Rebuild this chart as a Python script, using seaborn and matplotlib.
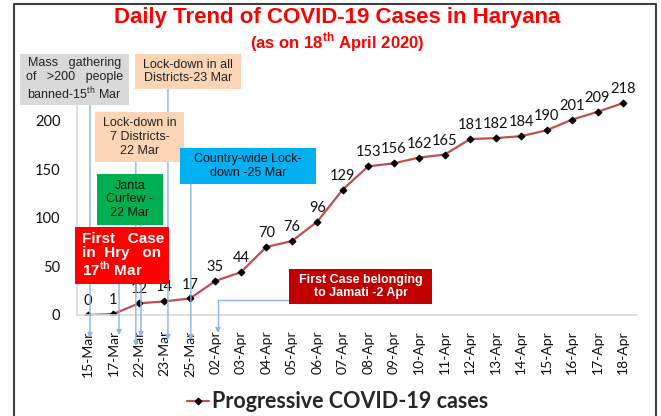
import matplotlib
matplotlib.use("Agg")
import matplotlib.pyplot as plt
import seaborn as sns
from matplotlib.patches import Rectangle
from matplotlib.lines import Line2D

# data
dates = ["15-Mar", "17-Mar", "22-Mar", "23-Mar", "25-Mar", "02-Apr", "03-Apr", "04-Apr",
         "05-Apr", "06-Apr", "07-Apr", "08-Apr", "09-Apr", "10-Apr", "11-Apr", "12-Apr",
         "13-Apr", "14-Apr", "15-Apr", "16-Apr", "17-Apr", "18-Apr"]
cases = [0, 1, 12, 14, 17, 35, 44, 70, 76, 96, 129, 153, 156, 162, 165, 181,
         182, 184, 190, 201, 209, 218]
yticks = [0, 50, 100, 150, 200]
series_name = "Progressive COVID-19 cases"

W, H = 661, 416
AX_TOP, AX_BOT = 72, 315

sns.set_theme(style="white")
plt.rcParams["font.family"] = ["Lato", "DejaVu Sans"]
plt.rcParams["mathtext.fontset"] = "custom"
plt.rcParams["mathtext.rm"] = "Liberation Sans"
plt.rcParams["mathtext.bf"] = "Liberation Sans:bold"

fig = plt.figure(figsize=(W / 100, H / 100), dpi=100)
ax = fig.add_axes([77 / W, 1 - AX_BOT / H, 560 / W, (AX_BOT - AX_TOP) / H])

sns.lineplot(x=dates, y=cases, sort=False, color="#c0504d", lw=1.6,
             marker="D", markersize=3.5, markerfacecolor="black",
             markeredgecolor="black", label=series_name, ax=ax)

for i, v in enumerate(cases):
    ax.annotate(str(v), (i, v), xytext=(0, 5), textcoords="offset points",
                ha="center", va="bottom", fontsize=10.5, color="#111111")

ax.set_ylim(0, 250)
ax.set_xlim(-0.43, 21.55)
ax.set_yticks(yticks)
ax.set_xlabel("")
ax.set_ylabel("")
ax.tick_params(axis="y", length=0, pad=12, labelsize=10.5, labelcolor="#111111")
ax.tick_params(axis="x", length=0, pad=11, labelsize=10, labelcolor="#111111",
               rotation=90)
for s in ["top", "right"]:
    ax.spines[s].set_visible(False)
for s in ["left", "bottom"]:
    ax.spines[s].set_color("#d9d9d9")
    ax.spines[s].set_linewidth(1.2)

ax.legend(loc="center", bbox_to_anchor=(338 / W, 1 - 402 / H),
          bbox_transform=fig.transFigure, frameon=False,
          prop={"family": "Lato", "weight": "bold", "size": 15.5},
          handlelength=1.0, handletextpad=0.15)


# annotation pointers (light blue lines from boxes down to the dates)
def fy(ypx):
    return (AX_BOT - ypx) / (AX_BOT - AX_TOP)


blend = ax.get_xaxis_transform()
arrow_kw = dict(arrowstyle="-|>", color="#8db3e2", lw=1.0, mutation_scale=7,
                shrinkA=0, shrinkB=0)
for xd, y0, y1 in [(0.08, 105, 338), (1.22, 284, 335), (1.88, 162, 346),
                   (2.08, 222, 337), (3.14, 89, 340), (4.04, 184, 340)]:
    ax.annotate("", xy=(xd, fy(y1)), xytext=(xd, fy(y0)), xycoords=blend,
                textcoords=blend, arrowprops=arrow_kw, annotation_clip=False)
ax.annotate("", xy=(5.1, fy(333)), xytext=(7.9, fy(300)), xycoords=blend,
            textcoords=blend, annotation_clip=False,
            arrowprops=dict(arrow_kw, connectionstyle="angle,angleA=0,angleB=90,rad=0"))


# boxes
def box(x0, y0, x1, y1, fill, text, tx=None, ha="center", **kw):
    fig.patches.append(Rectangle((x0 / W, 1 - y1 / H), (x1 - x0) / W, (y1 - y0) / H,
                                 transform=fig.transFigure, facecolor=fill,
                                 edgecolor="none", zorder=3))
    x = (x0 + x1) / 2 if tx is None else tx
    fig.text(x / W, 1 - (y0 + y1) / 2 / H, text, ha=ha, va="center",
             multialignment=ha, zorder=4, family="Liberation Sans", **kw)


box(20, 54, 129, 105, "#d9d9d9",
    "Mass   gathering\nof   >200   people\nbanned-15$^{\\rm th}$ Mar",
    fontsize=9, linespacing=1.2, color="#222222")
box(135, 54, 241, 89, "#fbd5b5", "Lock-down in all\nDistricts-23 Mar",
    fontsize=9, linespacing=1.2, color="#222222")
box(95, 112, 184, 162, "#fbd5b5", "Lock-down in\n7 Districts-\n22 Mar",
    fontsize=9, linespacing=1.2, color="#222222")
box(97, 174, 163, 225, "#00b050", "Janta\nCurfew -\n22 Mar",
    fontsize=9, linespacing=1.2, color="#111111")
box(180, 148, 316, 184, "#00b0f0", "Country-wide Lock-\ndown -25 Mar",
    fontsize=9, linespacing=1.2, color="#111111")
box(75, 227, 169, 284, "#ff0000", "First   Case\nin  Hry   on\n17$^{\\bf th}$ Mar",
    tx=82, ha="left", fontsize=11, fontweight="bold", linespacing=1.0, color="white")
box(289, 269, 432, 304, "#c00000", "First Case belonging\nto Jamati -2 Apr",
    fontsize=9, fontweight="bold", linespacing=1.15, color="white")

# titles
fig.text(337 / W, 1 - 18 / H, "Daily Trend of COVID-19 Cases in Haryana",
         ha="center", va="center", color="#ff0000", fontsize=16,
         fontweight="bold", family="Liberation Sans")
fig.text(337 / W, 1 - 42 / H, "(as on 18$^{\\bf th}$ April 2020)",
         ha="center", va="center", color="#ff0000", fontsize=12,
         fontweight="bold", family="Liberation Sans")

# outer frame
fig.add_artist(Line2D([14 / W, 14 / W, 656 / W, 656 / W], [0, 1 - 4 / H, 1 - 4 / H, 0],
                      transform=fig.transFigure, color="#404040", lw=1.5))

fig.savefig("out.png", dpi=100)
